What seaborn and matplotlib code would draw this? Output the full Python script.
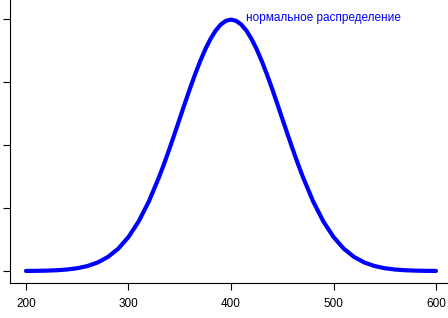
import matplotlib
matplotlib.use("Agg")
import matplotlib.pyplot as plt
import seaborn as sns
import pandas as pd

x_values = [200, 210, 220, 230, 240, 250, 260, 270, 280, 290, 300, 310, 320, 330,
            335, 340, 345, 350, 355, 360, 365, 370, 375, 380, 385, 390, 395, 400,
            405, 410, 415, 420, 425, 430, 435, 440, 445, 450, 455, 460, 465,
            470, 480, 490, 500, 510, 520, 530, 540, 550, 560, 570, 580, 590, 600]
density = [0.0000027, 0.0000058, 0.0000122, 0.0000246, 0.0000477, 0.0000886, 0.000158,
           0.000272, 0.000448, 0.000709, 0.001080, 0.001579, 0.002218, 0.002995,
           0.003427, 0.003884, 0.004357, 0.004839, 0.005322, 0.005794, 0.006245,
           0.006664, 0.007041, 0.007365, 0.007628, 0.007821, 0.007939, 0.007979,
           0.007939, 0.007821, 0.007628, 0.007365, 0.007041, 0.006664, 0.006245,
           0.005794, 0.005322, 0.004839, 0.004357, 0.003884, 0.003427,
           0.002995, 0.002218, 0.001579, 0.001080, 0.000709, 0.000448, 0.000272,
           0.000158, 0.0000886, 0.0000477, 0.0000246, 0.0000122, 0.0000058, 0.0000027]
x_ticks = [200, 300, 400, 500, 600]
y_ticks = [0, 0.002, 0.004, 0.006, 0.008]
label = "нормальное распределение"

sns.set_style("ticks")
plt.rcParams['font.family'] = ['Liberation Sans', 'DejaVu Sans']

df = pd.DataFrame({"x": x_values, "y": density})

fig = plt.figure(figsize=(4.48, 3.18), dpi=100)
ax = fig.add_axes([10/448, (318-283)/318, 1 - 10/448, 283/318])
sns.lineplot(data=df, x="x", y="y", ax=ax, color=(0, 0, 1), linewidth=3.0,
             solid_joinstyle='round', solid_capstyle='round')

ax.set_xlim(184.4, 611.7)
ax.set_ylim(-0.00038, 0.0086)
ax.set_xticks(x_ticks)
ax.set_xticklabels([str(t) for t in x_ticks], fontsize=8.5, color='black')
ax.set_yticks(y_ticks)
ax.set_yticklabels([])
ax.set_xlabel("")
ax.set_ylabel("")
ax.tick_params(axis='both', length=5, width=0.8, color='black', pad=5.5)
for s in ['top', 'right']:
    ax.spines[s].set_visible(False)
for s in ['left', 'bottom']:
    ax.spines[s].set_color('black')
    ax.spines[s].set_linewidth(0.8)

ax.text(415, 0.00803, label, color=(0, 0, 1), fontsize=8.5, ha='left', va='center')

fig.savefig("out.png", dpi=100)
